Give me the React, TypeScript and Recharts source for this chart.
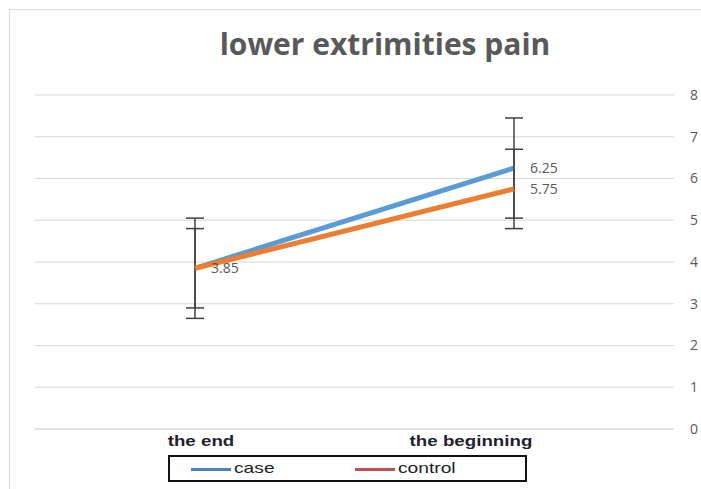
import React from 'react';
import { LineChart, Line, XAxis, YAxis, CartesianGrid, ErrorBar, LabelList } from 'recharts';

const categories = ['the end', 'the beginning'];
const caseValues = [3.85, 6.25];
const controlValues = [3.85, 5.75];
const caseErrors = [1.2, 1.2];
const controlErrors = [0.95, 0.95];
const yTicks = [0, 1, 2, 3, 4, 5, 6, 7, 8];

const data = categories.map((c, i) => ({
  name: c,
  caseV: caseValues[i],
  controlV: controlValues[i],
  caseErr: caseErrors[i],
  controlErr: controlErrors[i],
}));

const XTick = (props: any) => {
  const { x, y, payload, index } = props;
  const dx = index === 0 ? 6 : -43;
  return (
    <g transform={`translate(${x + dx},${y + 9}) scale(1.25,1)`}>
      <text x={0} y={0} textAnchor="middle" fontFamily="Liberation Sans, Arial, sans-serif" fontWeight="bold" fontSize={15} fill="#1f1f2e">
        {payload.value}
      </text>
    </g>
  );
};

const makeLabel = (skip: number[]) => (props: any) => {
  const { x, y, value, index } = props;
  if (skip.includes(index)) return null;
  return (
    <text x={x + 16} y={y + 1} dominantBaseline="middle" fontFamily="Open Sans, sans-serif" fontSize={14} fill="#595959">
      {value}
    </text>
  );
};

const legendText: React.CSSProperties = { position: 'absolute', top: 2, transform: 'scaleX(1.28)', transformOrigin: 'left center', whiteSpace: 'nowrap' };

export default function App() {
  return (
    <div style={{ position: 'absolute', left: 0, top: 0, width: 701, height: 489, overflow: 'hidden', background: '#fff' }}>
      <div style={{ position: 'absolute', left: 9, top: 9, width: 700, height: 490, borderTop: '1.5px solid #D9D9D9', borderLeft: '1.5px solid #D9D9D9' }} />
      <div style={{ position: 'absolute', left: 185, top: 24, width: 400, textAlign: 'center', fontFamily: 'Open Sans, sans-serif', fontWeight: 700, fontSize: 30, color: '#595959', lineHeight: '40px', whiteSpace: 'nowrap' }}>
        lower extrimities pain
      </div>
      <div style={{ position: 'absolute', left: 0, top: 0 }}>
        <LineChart width={701} height={489} data={data} margin={{ top: 95, right: 0, left: 35, bottom: 40 }} accessibilityLayer={false}>
          <CartesianGrid vertical={false} stroke="#D9D9D9" strokeWidth={1} />
          <XAxis dataKey="name" axisLine={{ stroke: '#D9D9D9' }} tickLine={false} height={20} tick={<XTick />} interval={0} padding={{ left: 160, right: 160 }} />
          <YAxis orientation="right" domain={[0, 8]} ticks={yTicks} width={27} axisLine={false} tickLine={false} tickSize={0} tickMargin={16}
            tick={{ fontFamily: 'Open Sans, sans-serif', fontSize: 14, fill: '#595959' }} />
          <Line dataKey="caseV" stroke="#5B9BD5" strokeWidth={5} dot={false} isAnimationActive={false}>
            <ErrorBar dataKey="caseErr" width={9} stroke="#404040" strokeWidth={1.5} direction="y" />
            <LabelList dataKey="caseV" content={makeLabel([0])} />
          </Line>
          <Line dataKey="controlV" stroke="#ED7D31" strokeWidth={5} dot={false} isAnimationActive={false}>
            <ErrorBar dataKey="controlErr" width={9} stroke="#404040" strokeWidth={1.5} direction="y" />
            <LabelList dataKey="controlV" content={makeLabel([])} />
          </Line>
        </LineChart>
      </div>
      <div style={{ position: 'absolute', left: 168, top: 455, width: 355, height: 23, border: '2px solid #111', fontFamily: 'Liberation Sans, Arial, sans-serif', fontSize: 15, color: '#222' }}>
        <div style={{ position: 'absolute', left: 21, top: 11, width: 40, height: 3, background: '#4F81BD' }} />
        <div style={{ ...legendText, left: 64 }}>case</div>
        <div style={{ position: 'absolute', left: 185, top: 11, width: 40, height: 3, background: '#C0504D' }} />
        <div style={{ ...legendText, left: 228 }}>control</div>
      </div>
    </div>
  );
}
